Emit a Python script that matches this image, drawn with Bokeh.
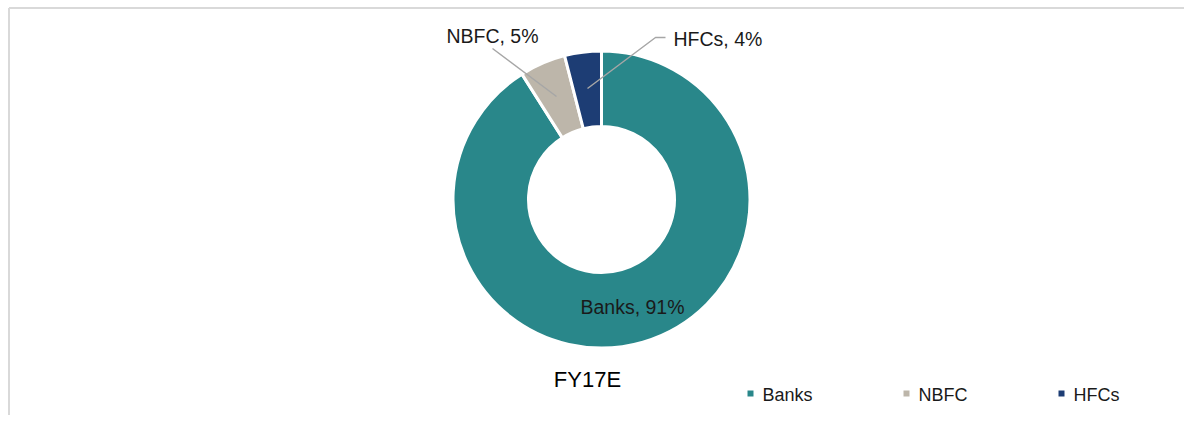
import math
from bokeh.plotting import figure
from bokeh.models import ColumnDataSource, Range1d
from bokeh.core.properties import value
from bokeh.embed import file_html
from bokeh.resources import INLINE

# ---- data ----
categories = ["Banks", "NBFC", "HFCs"]
shares = [91, 5, 4]
colors = ["#29878A", "#BDB6AA", "#1D3D74"]
chart_title = "FY17E"

# ---- layout (page pixel helpers) ----
W, H = 1184, 415
FONT = "Liberation Sans"


def px(x):
    return x


def py(y):
    return H - y


p = figure(width=W, height=H, x_range=Range1d(0, W), y_range=Range1d(0, H),
           output_backend="svg", toolbar_location=None, min_border=0,
           x_axis_location=None, y_axis_location=None)
p.grid.visible = False
p.outline_line_color = None
p.background_fill_color = "white"
p.border_fill_color = "white"

# chart-area border (top & left visible)
p.segment(x0=[px(8.5), px(8.5)], y0=[py(7.5), py(7.5)],
          x1=[px(8.5), px(W)], y1=[py(H), py(7.5)],
          line_color="#D9D9D9", line_width=2)

# ---- donut ----
cx, cy = px(601), py(199)
total = float(sum(shares))
cum = 0.0
starts, ends = [], []
for s in shares:
    starts.append(math.pi / 2 - 2 * math.pi * cum / total)
    cum += s
    ends.append(math.pi / 2 - 2 * math.pi * cum / total)

src = ColumnDataSource(dict(cat=categories, share=shares, color=colors,
                            start=starts, end=ends))
p.annular_wedge(x=cx, y=cy, inner_radius=73, outer_radius=148.5,
                start_angle="start", end_angle="end", direction="clock",
                fill_color="color", line_color="white", line_width=3, source=src)

# ---- leader lines ----
p.multi_line(xs=[[px(492), px(556)], [px(665), px(655), px(587)]],
             ys=[[py(48), py(96)], [py(37), py(37), py(88)]],
             line_color="#A6A6A6", line_width=1.5)

# ---- data labels ----
labels = [f"{c}, {s}%" for c, s in zip(categories, shares)]
lab_x = [px(632), px(492), px(673)]
lab_y = [py(306), py(35), py(38)]
lab_align = ["center", "center", "left"]
p.text(x=lab_x, y=lab_y, text=labels, text_align=lab_align,
       text_baseline="middle", text_font=value(FONT), text_font_size="19.5px",
       text_color="#1A1A1A")

# ---- title below donut ----
p.text(x=[px(587)], y=[py(379)], text=[chart_title], text_align="center",
       text_baseline="middle", text_font=value(FONT), text_font_size="22px",
       text_color="#000000")

# ---- legend ----
leg_x = [px(750), px(906), px(1061)]
leg_y = [py(393)] * 3
p.scatter(x=leg_x, y=leg_y, marker="square", size=6, fill_color=colors,
          line_color=None)
p.text(x=[v + 12 for v in leg_x], y=[py(394)] * 3, text=categories,
       text_align="left", text_baseline="middle", text_font=value(FONT),
       text_font_size="18px", text_color="#1A1A1A")

open("out.html", "w").write(file_html(p, INLINE))
